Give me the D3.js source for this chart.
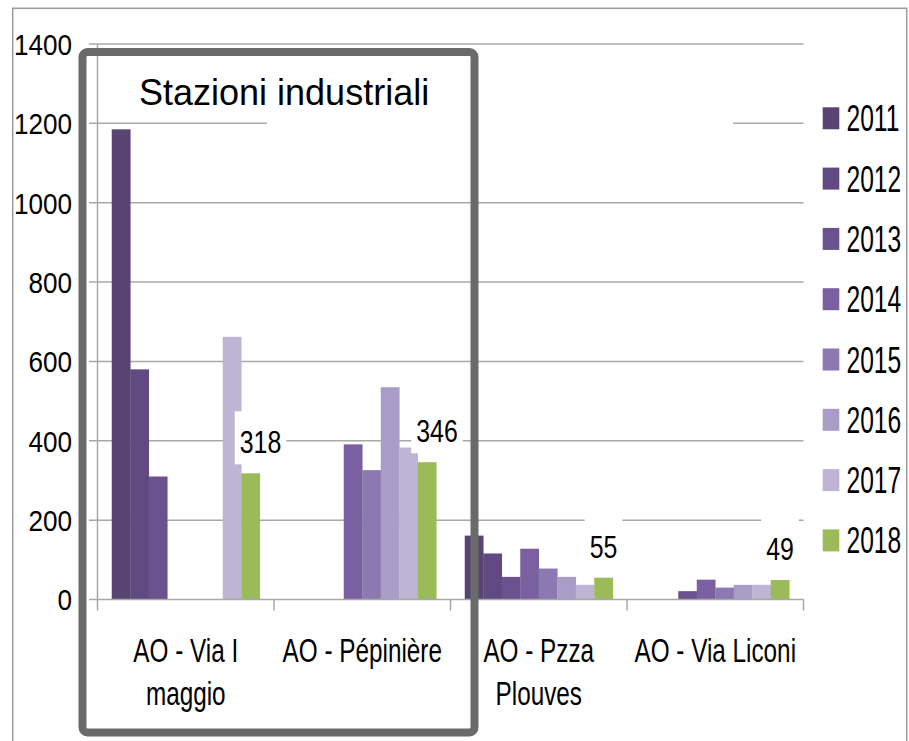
<!DOCTYPE html>
<html>
<head>
<meta charset="utf-8">
<script src="https://cdn.jsdelivr.net/npm/d3@7"></script>
<style>
  html, body { margin: 0; padding: 0; background: #ffffff; }
  svg { display: block; }
</style>
</head>
<body>
<script>
// ---------------- DATA ----------------
const categories = ["AO - Via I maggio", "AO - Pépinière", "AO - Pzza Plouves", "AO - Via Liconi"];
const categoryLines = [["AO - Via I", "maggio"], ["AO - Pépinière"], ["AO - Pzza", "Plouves"], ["AO - Via Liconi"]];
const years = ["2011", "2012", "2013", "2014", "2015", "2016", "2017", "2018"];
const v2011 = [1185, null, 161, null];
const v2012 = [580, null, 116, null];
const v2013 = [310, null, 57, 21];
const v2014 = [null, 391, 128, 50];
const v2015 = [null, 326, 78, 30];
const v2016 = [null, 535, 57, 37];
const v2017 = [662, 383, 37, 37];
const v2018 = [318, 346, 55, 49];
const seriesValues = [v2011, v2012, v2013, v2014, v2015, v2016, v2017, v2018];
const labelledSeries = "2018";
const yTickValues = [0, 200, 400, 600, 800, 1000, 1200, 1400];
const yTickLabels = ["0", "200", "400", "600", "800", "1000", "1200", "1400"];
const titleText = "Stazioni industriali";

// ---------------- STYLE ----------------
const W = 909, H = 741;
const colors = ["#574473", "#604a81", "#69528e", "#7a60a0", "#8c79b1", "#a99cc6", "#bdb5d3", "#9bbb59"];
const baseFont = "'Liberation Sans', Arial, sans-serif";
const gridColor = "#a8a8a8";

const svg = d3.select("body").append("svg").attr("width", W).attr("height", H);

// text helper: condensed look via horizontal/vertical scaling
function addText(g, x, yy, str, size, sx, sy, anchor, dy) {
  return g.append("text")
    .attr("transform", `translate(${x},${yy}) scale(${sx},${sy})`)
    .attr("text-anchor", anchor || "start")
    .attr("dy", dy || 0)
    .style("font-family", baseFont).style("font-size", size + "px")
    .attr("fill", "#000").text(str);
}

// outer picture border
svg.append("rect").attr("x", 12.7).attr("y", 8.3).attr("width", 894).attr("height", 760)
  .attr("fill", "none").attr("stroke", "#9a9a9a").attr("stroke-width", 1.5);

const x0 = d3.scaleBand().domain(categories).range([97.5, 803.5]).padding(0);
const x1 = d3.scaleBand().domain(years).range([0, x0.bandwidth()]).paddingInner(0).paddingOuter(0.77);
const y = d3.scaleLinear().domain([0, 1400]).range([599.5, 44]);

// gridlines (extending left as tick marks)
const grid = svg.append("g");
grid.selectAll("line").data(yTickValues.filter(v => v > 0)).join("line")
  .attr("x1", 89).attr("x2", 803.5)
  .attr("y1", d => y(d)).attr("y2", d => y(d))
  .attr("stroke", gridColor).attr("stroke-width", 1.5);

// blank area where an erased title used to be (hides part of a gridline)
svg.append("rect").attr("x", 267).attr("y", 70).attr("width", 466).attr("height", 110).attr("fill", "#fff");

// y axis line + tick labels
svg.append("line").attr("x1", 97.5).attr("x2", 97.5).attr("y1", y(1400)).attr("y2", y(0))
  .attr("stroke", gridColor).attr("stroke-width", 1.5);
svg.append("line").attr("x1", 89).attr("x2", 97.5).attr("y1", y(0)).attr("y2", y(0))
  .attr("stroke", gridColor).attr("stroke-width", 1.5);
const yLab = svg.append("g");
yTickValues.forEach((v, i) => addText(yLab, 72, y(v), yTickLabels[i], 30, 0.87, 1.0, "end", "0.36em"));

// bars
const groups = svg.append("g").selectAll("g").data(categories).join("g")
  .attr("transform", d => `translate(${x0(d)},0)`);
groups.selectAll("rect")
  .data((c, ci) => years.map((yr, si) => ({ yr, si, v: seriesValues[si][ci] })).filter(d => d.v != null))
  .join("rect")
  .attr("x", d => x1(d.yr)).attr("width", x1.bandwidth() + 0.3)
  .attr("y", d => y(d.v)).attr("height", d => y(0) - y(d.v))
  .attr("fill", d => colors[d.si]);

// x axis line + ticks
svg.append("line").attr("x1", 97.5).attr("x2", 803.5).attr("y1", y(0)).attr("y2", y(0))
  .attr("stroke", gridColor).attr("stroke-width", 1.5);
const bounds = categories.map(c => x0(c)).concat([x0.range()[1]]);
svg.append("g").selectAll("line").data(bounds).join("line")
  .attr("x1", d => d).attr("x2", d => d).attr("y1", y(0)).attr("y2", y(0) + 11)
  .attr("stroke", gridColor).attr("stroke-width", 1.5);

// data labels with white boxes
const li = years.indexOf(labelledSeries);
const labelDx = [10, 10, 0, 0];
const labG = svg.append("g");
categories.forEach((c, ci) => {
  const v = seriesValues[li][ci];
  const cx = x0(c) + x1(labelledSeries) + x1.bandwidth() / 2 + labelDx[ci];
  const base = y(v) - 20;
  const box = labG.append("rect").attr("fill", "#fff");
  const t = addText(labG, cx, base, String(v), 30, 0.83, 1.06, "middle");
  const w = t.node().getComputedTextLength() * 0.83;
  box.attr("x", cx - w / 2 - 5).attr("width", w + 10).attr("y", base - 42).attr("height", 53);
});

// category labels
const catG = svg.append("g");
categories.forEach((c, ci) => {
  const cx = x0(c) + x0.bandwidth() / 2;
  categoryLines[ci].forEach((ln, k) => addText(catG, cx, 661.5 + k * 43.5, ln, 30, 0.81, 1.08, "middle"));
});

// legend
const leg = svg.append("g");
years.forEach((yr, i) => {
  const cy = 118.3 + i * 60.3;
  leg.append("rect").attr("x", 822.7).attr("y", cy - 11).attr("width", 16.6).attr("height", 22).attr("fill", colors[i]);
  addText(leg, 846.5, cy + 0.36 * 30 * 1.21, yr, 30, 0.82, 1.21, "start");
});

// title & highlight frame
svg.append("text").attr("x", 139).attr("y", 105)
  .style("font-family", baseFont).style("font-size", "36px").attr("fill", "#000")
  .text(titleText);
svg.append("rect").attr("x", 82.5).attr("y", 52).attr("width", 392).attr("height", 680.5).attr("rx", 5)
  .attr("fill", "none").attr("stroke", "#6a6a6a").attr("stroke-width", 8);
</script>
</body>
</html>
